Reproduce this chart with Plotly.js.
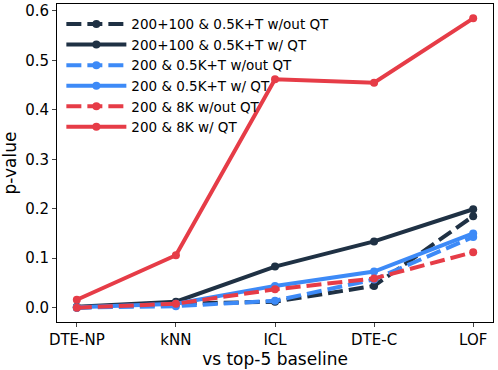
<!DOCTYPE html>
<html>
<head>
<meta charset="utf-8">
<script src="https://cdn.plot.ly/plotly-3.0.1.min.js"></script>
<style>
  html, body { margin: 0; padding: 0; background: #fff; }
  #chart { width: 498px; height: 370px; }
</style>
</head>
<body>
<div id="chart"></div>
<script>
  const baselines = ["DTE-NP", "kNN", "ICL", "DTE-C", "LOF"];

  const dark = "#1f3144";
  const blue = "#3d8af7";
  const red = "#e63c47";

  const seriesNames = [
    "200+100 & 0.5K+T w/out QT",
    "200+100 & 0.5K+T w/ QT",
    "200 & 0.5K+T w/out QT",
    "200 & 0.5K+T w/ QT",
    "200 & 8K w/out QT",
    "200 & 8K w/ QT",
  ];

  const dark_noQT = [0.000, 0.008, 0.012, 0.044, 0.185];
  const dark_QT = [0.002, 0.012, 0.083, 0.134, 0.199];
  const blue_noQT = [0.000, 0.003, 0.014, 0.057, 0.143];
  const blue_QT = [0.001, 0.008, 0.044, 0.073, 0.150];
  const red_noQT = [0.000, 0.008, 0.037, 0.059, 0.112];
  const red_QT = [0.016, 0.106, 0.462, 0.455, 0.585];

  function trace(name, y, color, dashed) {
    return {
      x: baselines.map((_, i) => i),
      y,
      name,
      type: "scatter",
      mode: "lines+markers",
      line: { color, width: 4, dash: dashed ? "15px,6px" : "solid" },
      marker: { color, size: 8 },
    };
  }

  const data = [
    trace(seriesNames[0], dark_noQT, dark, true),
    trace(seriesNames[1], dark_QT, dark, false),
    trace(seriesNames[2], blue_noQT, blue, true),
    trace(seriesNames[3], blue_QT, blue, false),
    trace(seriesNames[4], red_noQT, red, true),
    trace(seriesNames[5], red_QT, red, false),
  ];

  const tickFont = { family: "DejaVu Sans", size: 15, color: "#000" };
  const titleFont = { family: "DejaVu Sans", size: 17, color: "#000" };

  const layout = {
    width: 498,
    height: 370,
    margin: { l: 57, r: 5, t: 4, b: 48 },
    paper_bgcolor: "#fff",
    plot_bgcolor: "#fff",
    font: { family: "DejaVu Sans", color: "#000" },
    xaxis: {
      range: [-0.2, 4.2],
      tickvals: baselines.map((_, i) => i),
      ticktext: baselines,
      tickfont: tickFont,
      ticks: "outside",
      ticklen: 4,
      showgrid: false,
      zeroline: false,
      showline: true,
      mirror: true,
      linecolor: "#000",
      linewidth: 1,
      title: { text: "vs top-5 baseline", font: titleFont, standoff: 2 },
    },
    yaxis: {
      range: [-0.029, 0.614],
      tickvals: [0, 0.1, 0.2, 0.3, 0.4, 0.5, 0.6],
      tickformat: ".1f",
      tickfont: tickFont,
      ticks: "outside",
      ticklen: 4,
      showgrid: false,
      zeroline: false,
      showline: true,
      mirror: true,
      linecolor: "#000",
      linewidth: 1,
      title: { text: "p-value", font: titleFont, standoff: 4 },
    },
    legend: {
      x: 0.01,
      y: 0.985,
      xanchor: "left",
      yanchor: "top",
      bgcolor: "rgba(255,255,255,0)",
      borderwidth: 0,
      itemwidth: 60,
      font: { family: "DejaVu Sans", size: 13.5, color: "#000" },
      tracegroupgap: 0,
    },
    showlegend: true,
  };

  Plotly.newPlot("chart", data, layout, { displayModeBar: false, staticPlot: true });
</script>
</body>
</html>
